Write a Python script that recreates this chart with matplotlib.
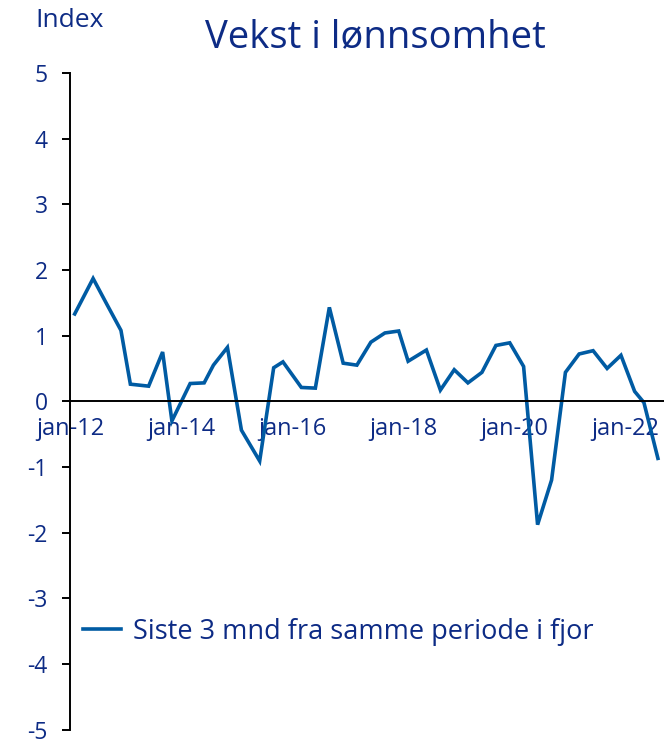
#!/usr/bin/env python3

import matplotlib
matplotlib.use('Agg')
import matplotlib.pyplot as plt
import pandas as pd

dates = ['2012-02', '2012-06', '2012-09', '2012-12', '2013-02', '2013-06', '2013-09', '2013-11',
         '2014-03', '2014-06', '2014-08', '2014-11', '2015-02', '2015-06', '2015-09', '2015-11',
         '2016-03', '2016-06', '2016-09', '2016-12', '2017-03', '2017-06', '2017-09', '2017-12',
         '2018-02', '2018-06', '2018-09', '2018-12', '2019-03', '2019-06', '2019-09', '2019-12',
         '2020-03', '2020-06', '2020-09', '2020-12', '2021-03', '2021-06', '2021-09', '2021-12',
         '2022-03', '2022-05', '2022-08']
values = [1.33, 1.87, 1.47, 1.08, 0.26, 0.23, 0.75, -0.30,
          0.27, 0.28, 0.55, 0.82, -0.44, -0.91, 0.51, 0.60,
          0.21, 0.20, 1.43, 0.58, 0.55, 0.90, 1.04, 1.07,
          0.61, 0.78, 0.17, 0.48, 0.28, 0.44, 0.85, 0.89,
          0.53, -1.88, -1.20, 0.44, 0.72, 0.77, 0.50, 0.70,
          0.15, -0.02, -0.87]

tick_dates = ['2012-01', '2014-01', '2016-01', '2018-01', '2020-01', '2022-01']
tick_labels = ['jan-12', 'jan-14', 'jan-16', 'jan-18', 'jan-20', 'jan-22']
y_ticks = [5, 4, 3, 2, 1, 0, -1, -2, -3, -4, -5]

series_label = 'Siste 3 mnd fra samme periode i fjor'
title = 'Vekst i lønnsomhet'

navy = '#0d2b85'
line_blue = '#005ba3'

plt.rcParams['font.family'] = ['Open Sans', 'DejaVu Sans']

x = pd.to_datetime(dates)

fig = plt.figure(figsize=(6.64, 7.41), dpi=100)
ax = fig.add_axes([0.1054, 0.0155, 0.8946, 0.886])

ax.plot(x, values, color=line_blue, linewidth=2.6, label=series_label, solid_joinstyle='miter')

ax.set_ylim(-5, 5)
ax.set_xlim(pd.Timestamp('2012-01-01'), pd.Timestamp('2022-09-10'))
ax.set_yticks(y_ticks)
ax.set_yticklabels([str(v) for v in y_ticks])
ax.set_xticks(pd.to_datetime(tick_dates))
ax.set_xticklabels(tick_labels)

for s in ['top', 'right']:
    ax.spines[s].set_visible(False)
ax.spines['bottom'].set_position(('data', 0))
ax.spines['bottom'].set_linewidth(1.4)
ax.spines['left'].set_linewidth(1.4)

ax.tick_params(axis='y', direction='out', length=6, width=1.4, pad=10, labelsize=16.5, labelcolor=navy)
ax.tick_params(axis='x', length=0, pad=11, labelsize=17, labelcolor=navy)

fig.text(0.565, 0.95, title, ha='center', va='center', fontsize=27.5, color=navy)
fig.text(0.053, 0.972, 'Index', ha='left', va='center', fontsize=19, color=navy)

leg = ax.legend(loc='center left', bbox_to_anchor=(0.022, 0.149), frameon=False,
                fontsize=19.5, handlelength=1.4, handletextpad=0.45,
                borderpad=0, borderaxespad=0)
for t in leg.get_texts():
    t.set_color(navy)

plt.savefig('out.png', dpi=100)
plt.close()
